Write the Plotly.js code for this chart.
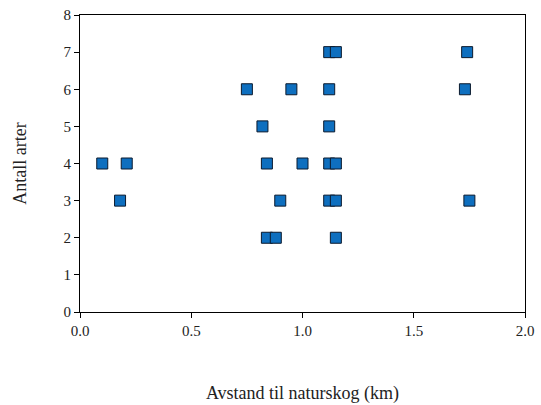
<!DOCTYPE html>
<html>
<head>
<meta charset="utf-8">
<script src="https://cdn.plot.ly/plotly-3.0.1.min.js"></script>
<style>
  html, body { margin: 0; padding: 0; background: #ffffff; }
  #chart { width: 541px; height: 405px; }
</style>
</head>
<body>
<div id="chart"></div>
<script>
// Distance to natural forest (km) and number of species per site
const avstand = [0.10, 0.21, 0.18, 0.75, 0.82, 0.84, 0.95, 1.00, 0.90, 0.84, 0.88,
                 1.12, 1.15, 1.74, 1.12, 1.73, 1.12, 1.12, 1.15, 1.12, 1.15, 1.75, 1.15];
const arter   = [4, 4, 3, 6, 5, 4, 6, 4, 3, 2, 2,
                 7, 7, 7, 6, 6, 5, 4, 4, 3, 3, 3, 2];

const xTicks = [0, 0.5, 1.0, 1.5, 2.0];
const xTickText = ['0.0', '0.5', '1.0', '1.5', '2.0'];
const yTicks = [0, 1, 2, 3, 4, 5, 6, 7, 8];

const serif = '"Liberation Serif", "Times New Roman", "DejaVu Serif", serif';

const trace = {
  x: avstand,
  y: arter,
  type: 'scatter',
  mode: 'markers',
  marker: {
    symbol: 'square',
    size: 11,
    color: '#0E6FBF',
    line: { color: '#0b1a2e', width: 1 }
  },
  hoverinfo: 'x+y'
};

const layout = {
  width: 541,
  height: 405,
  margin: { l: 80, r: 16, t: 15, b: 93 },
  paper_bgcolor: '#ffffff',
  plot_bgcolor: '#ffffff',
  showlegend: false,
  font: { family: serif, size: 15, color: '#222222' },
  xaxis: {
    range: [0, 2.0],
    tickvals: xTicks,
    ticktext: xTickText,
    ticks: 'outside',
    ticklen: 5,
    tickwidth: 1,
    tickcolor: '#000000',
    showline: true,
    linecolor: '#000000',
    linewidth: 1,
    mirror: true,
    showgrid: false,
    zeroline: false,
    tickfont: { family: serif, size: 15, color: '#222222' },
    title: { text: 'Avstand til naturskog (km)', font: { family: serif, size: 18, color: '#222222' }, standoff: 48 }
  },
  yaxis: {
    range: [0, 8],
    tickvals: yTicks,
    ticks: 'outside',
    ticklen: 5,
    tickwidth: 1,
    tickcolor: '#000000',
    showline: true,
    linecolor: '#000000',
    linewidth: 1,
    mirror: true,
    showgrid: false,
    zeroline: false,
    tickfont: { family: serif, size: 15, color: '#222222' },
    title: { text: 'Antall arter', font: { family: serif, size: 18, color: '#222222' }, standoff: 32 }
  }
};

Plotly.newPlot('chart', [trace], layout, { displayModeBar: false, staticPlot: true });
</script>
</body>
</html>
